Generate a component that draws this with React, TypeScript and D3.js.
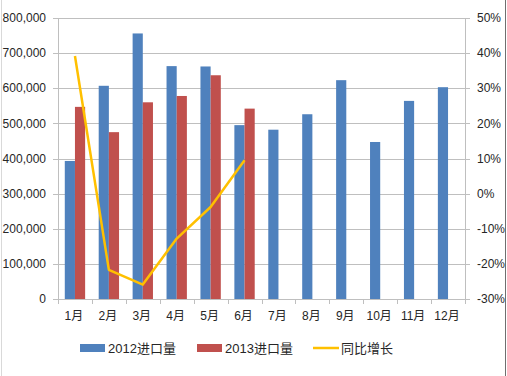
import React from "react";
import * as d3 from "d3";

const months = ["1月", "2月", "3月", "4月", "5月", "6月", "7月", "8月", "9月", "10月", "11月", "12月"];
const imports2012 = [393000, 607000, 756000, 663000, 662000, 495000, 482000, 526000, 623000, 447000, 564000, 603000];
const imports2013 = [547000, 475000, 560000, 578000, 637000, 542000];
const growth = [0.392, -0.217, -0.259, -0.128, -0.038, 0.095];
const leftTicks = [0, 100000, 200000, 300000, 400000, 500000, 600000, 700000, 800000];
const rightTicks = [-0.3, -0.2, -0.1, 0, 0.1, 0.2, 0.3, 0.4, 0.5];
const seriesNames = ["2012进口量", "2013进口量", "同比增长"];

const W = 507, H = 376;
const M = { left: 58, right: 465, top: 18, bottom: 299 };
const FONT = "'Liberation Sans', Arial, 'Noto Sans CJK SC', sans-serif";
const BLUE = "#4F81BD", RED = "#C0504D", GOLD = "#FFC000";
const GRID = "#BFBFBF";
const TEXT = "#262626";

export default function App() {
  const x = d3.scaleBand<string>().domain(months).range([M.left, M.right]).paddingInner(0).paddingOuter(0);
  const yL = d3.scaleLinear().domain([0, 800000]).range([M.bottom, M.top]);
  const yR = d3.scaleLinear().domain([-0.3, 0.5]).range([M.bottom, M.top]);
  const bw = x.bandwidth();
  const barW = bw * 0.3;
  const fmt = d3.format(",");
  const pct = (v: number) => `${Math.round(v * 100)}%`;

  const line = d3
    .line<number>()
    .x((_, i) => (x(months[i]) as number) + bw / 2)
    .y((d) => yR(d));

  const legend = [
    { x: 80, type: "rect", color: BLUE, label: seriesNames[0] },
    { x: 197, type: "rect", color: RED, label: seriesNames[1] },
    { x: 313, type: "line", color: GOLD, label: seriesNames[2] },
  ];

  return (
    <svg width={W} height={H} style={{ position: "fixed", left: 0, top: 0, background: "#fff" }} fontFamily={FONT}>
      <rect x={0} y={0} width={W} height={H} fill="#fff" />
      <line x1={1.5} x2={1.5} y1={0} y2={H} stroke="#D9D9D9" />
      <line x1={505.5} x2={505.5} y1={0} y2={H} stroke="#6f6f6f" />
      {/* gridlines */}
      {leftTicks.map((t) => (
        <line key={t} x1={M.left - 5} x2={M.right + 5} y1={Math.round(yL(t)) + 0.5} y2={Math.round(yL(t)) + 0.5} stroke={GRID} />
      ))}
      {/* axes */}
      <line x1={M.left + 0.5} x2={M.left + 0.5} y1={M.top} y2={M.bottom} stroke={GRID} />
      <line x1={M.right + 0.5} x2={M.right + 0.5} y1={M.top} y2={M.bottom} stroke={GRID} />
      {months.map((m, i) => (
        <line key={"t" + i} x1={Math.round(x(m) as number) + 0.5} x2={Math.round(x(m) as number) + 0.5} y1={M.bottom} y2={M.bottom + 5} stroke={GRID} />
      ))}
      <line x1={M.right + 0.5} x2={M.right + 0.5} y1={M.bottom} y2={M.bottom + 5} stroke={GRID} />
      {/* bars */}
      {imports2012.map((v, i) => {
        const cx = (x(months[i]) as number) + bw / 2;
        return <rect key={"a" + i} x={cx - barW} y={yL(v)} width={barW} height={yL(0) - yL(v)} fill={BLUE} />;
      })}
      {imports2013.map((v, i) => {
        const cx = (x(months[i]) as number) + bw / 2;
        return <rect key={"b" + i} x={cx} y={yL(v)} width={barW} height={yL(0) - yL(v)} fill={RED} />;
      })}
      <path d={line(growth) || ""} fill="none" stroke={GOLD} strokeWidth={2.5} strokeLinejoin="round" />
      {/* left labels */}
      {leftTicks.map((t) => (
        <text key={"l" + t} x={46} y={yL(t)} dy="0.35em" textAnchor="end" fontSize={12} fill={TEXT}>
          {fmt(t)}
        </text>
      ))}
      {rightTicks.map((t) => (
        <text key={"r" + t} x={477} y={yR(t)} dy="0.35em" textAnchor="start" fontSize={12} fill={TEXT}>
          {pct(t)}
        </text>
      ))}
      {months.map((m) => (
        <text key={"x" + m} x={(x(m) as number) + bw / 2 - 1} y={316} dy="0.35em" textAnchor="middle" fontSize={12} fill={TEXT}>
          {m}
        </text>
      ))}
      {legend.map((l) => (
        <g key={l.label}>
          {l.type === "rect" ? (
            <rect x={l.x} y={344} width={25} height={8} fill={l.color} />
          ) : (
            <line x1={l.x} x2={l.x + 26} y1={348} y2={348} stroke={l.color} strokeWidth={2.5} />
          )}
          <text x={l.x + 28} y={348} dy="0.35em" fontSize={13} fill={TEXT}>
            {l.label}
          </text>
        </g>
      ))}
    </svg>
  );
}
